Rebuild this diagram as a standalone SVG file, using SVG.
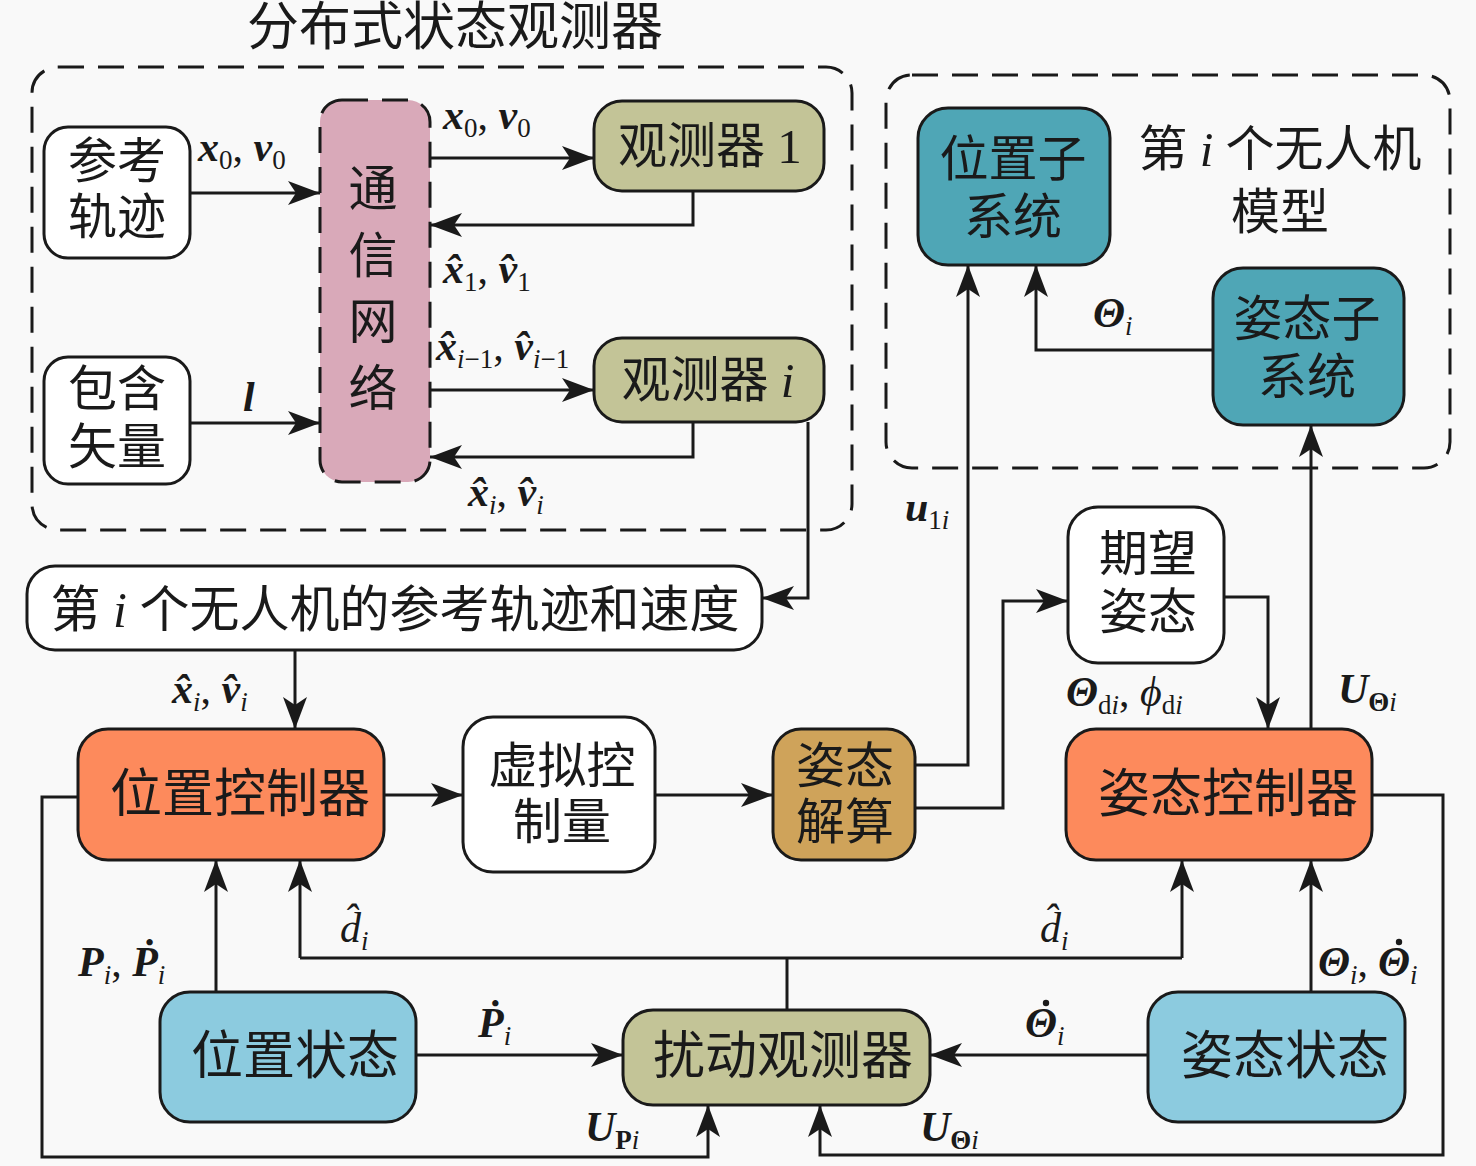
<svg xmlns="http://www.w3.org/2000/svg" width="1476" height="1166" viewBox="0 0 1476 1166">
<style>
.bg{fill:#f9f9f9}
.box{stroke:#1a1a1a;stroke-width:3}
.dash{fill:none;stroke:#1a1a1a;stroke-width:3;stroke-dasharray:26 14}
.cn{font-family:"Liberation Serif","Noto Sans CJK SC",serif;font-size:49px;fill:#1a1a1a;text-anchor:middle}
.big{font-size:52px}
.m{font-family:"Liberation Serif",serif;font-size:42px;fill:#1a1a1a}
.bi{font-weight:bold;font-style:italic}
.it{font-style:italic}
.sub{font-size:27px}
.ln{fill:none;stroke:#1a1a1a;stroke-width:3}
.dot{fill:#1a1a1a}
.white{fill:#ffffff}
.olive{fill:#c3c497}
.pink{fill:#d9a9b9}
.coral{fill:#fd8a5c}
.tan{fill:#cfa35a}
.teal{fill:#4fa6b6}
.lblue{fill:#8ccbdf}
</style>
<defs>
<marker id="ar" markerUnits="userSpaceOnUse" markerWidth="32" markerHeight="24" refX="32" refY="12" orient="auto">
<path d="M0,0 L32,12 L0,24 L8,12 Z" fill="#1a1a1a"/>
</marker>
</defs>
<rect class="bg" x="0" y="0" width="1476" height="1166"/>

<g id="frames">
<rect class="dash" x="32" y="67" width="820" height="463" rx="26"/>
<text class="cn big" x="455" y="45">分布式状态观测器</text>
<rect class="dash" x="886" y="75" width="564" height="393" rx="26"/>
<text class="cn" x="1280" y="166">第 <tspan font-style="italic" font-family="Liberation Serif">i</tspan> 个无人机</text>
<text class="cn" x="1280" y="229">模型</text>
</g>

<g id="connectors">
<line class="ln" x1="190" y1="193" x2="320" y2="193" marker-end="url(#ar)"/>
<line class="ln" x1="190" y1="423" x2="320" y2="423" marker-end="url(#ar)"/>
<line class="ln" x1="430" y1="158" x2="594" y2="158" marker-end="url(#ar)"/>
<polyline class="ln" points="693,191 693,225 430,225" marker-end="url(#ar)"/>
<line class="ln" x1="430" y1="390" x2="594" y2="390" marker-end="url(#ar)"/>
<polyline class="ln" points="693,422 693,457 430,457" marker-end="url(#ar)"/>
<polyline class="ln" points="808,422 808,598 762,598" marker-end="url(#ar)"/>
<line class="ln" x1="295" y1="650" x2="295" y2="729" marker-end="url(#ar)"/>
<line class="ln" x1="384" y1="795" x2="463" y2="795" marker-end="url(#ar)"/>
<line class="ln" x1="655" y1="795" x2="773" y2="795" marker-end="url(#ar)"/>
<polyline class="ln" points="915,765 968,765 968,265" marker-end="url(#ar)"/>
<polyline class="ln" points="915,808 1003,808 1003,601 1068,601" marker-end="url(#ar)"/>
<polyline class="ln" points="1224,597 1268,597 1268,729" marker-end="url(#ar)"/>
<line class="ln" x1="1311" y1="729" x2="1311" y2="425" marker-end="url(#ar)"/>
<polyline class="ln" points="1213,350 1036,350 1036,265" marker-end="url(#ar)"/>
<polyline class="ln" points="1372,795 1443,795 1443,1155 820,1155 820,1105" marker-end="url(#ar)"/>
<polyline class="ln" points="78,797 42,797 42,1157 708,1157 708,1105" marker-end="url(#ar)"/>
<line class="ln" x1="216" y1="992" x2="216" y2="860" marker-end="url(#ar)"/>
<line class="ln" x1="416" y1="1055" x2="623" y2="1055" marker-end="url(#ar)"/>
<line class="ln" x1="1148" y1="1055" x2="930" y2="1055" marker-end="url(#ar)"/>
<line class="ln" x1="787" y1="1010" x2="787" y2="958"/>
<polyline class="ln" points="300,958 1182,958"/>
<line class="ln" x1="300" y1="958" x2="300" y2="860" marker-end="url(#ar)"/>
<line class="ln" x1="1182" y1="958" x2="1182" y2="860" marker-end="url(#ar)"/>
<line class="ln" x1="1311" y1="992" x2="1311" y2="860" marker-end="url(#ar)"/>
</g>

<g id="labels">
<text class="m" x="198" y="161"><tspan class="bi">x</tspan><tspan class="sub" dy="8">0</tspan><tspan dy="-8">, </tspan><tspan class="bi">v</tspan><tspan class="sub" dy="8">0</tspan></text>
<text class="m bi" x="243" y="411">l</text>
<text class="m" x="443" y="129"><tspan class="bi">x</tspan><tspan class="sub" dy="8">0</tspan><tspan dy="-8">, </tspan><tspan class="bi">v</tspan><tspan class="sub" dy="8">0</tspan></text>
<text class="m" x="443" y="283"><tspan class="bi">x̂</tspan><tspan class="sub" dy="8">1</tspan><tspan dy="-8">, </tspan><tspan class="bi">v̂</tspan><tspan class="sub" dy="8">1</tspan></text>
<text class="m" x="436" y="360"><tspan class="bi">x̂</tspan><tspan class="sub it" dy="8">i</tspan><tspan class="sub">−1</tspan><tspan dy="-8">, </tspan><tspan class="bi">v̂</tspan><tspan class="sub it" dy="8">i</tspan><tspan class="sub">−1</tspan></text>
<text class="m" x="468" y="506"><tspan class="bi">x̂</tspan><tspan class="sub it" dy="8">i</tspan><tspan dy="-8">, </tspan><tspan class="bi">v̂</tspan><tspan class="sub it" dy="8">i</tspan></text>
<text class="m" x="172" y="703"><tspan class="bi">x̂</tspan><tspan class="sub it" dy="8">i</tspan><tspan dy="-8">, </tspan><tspan class="bi">v̂</tspan><tspan class="sub it" dy="8">i</tspan></text>
<text class="m" x="905" y="521"><tspan class="bi">u</tspan><tspan class="sub" dy="8">1</tspan><tspan class="sub it">i</tspan></text>
<text class="m" x="1093" y="327"><tspan class="bi">Θ</tspan><tspan class="sub it" dy="8">i</tspan></text>
<text class="m" x="1066" y="706"><tspan class="bi">Θ</tspan><tspan class="sub" dy="8">d</tspan><tspan class="sub it">i</tspan><tspan dy="-8">, </tspan><tspan class="it">ϕ</tspan><tspan class="sub" dy="8">d</tspan><tspan class="sub it">i</tspan></text>
<text class="m" x="1338" y="703"><tspan class="bi">U</tspan><tspan class="sub" dy="8" font-weight="bold">Θ</tspan><tspan class="sub it">i</tspan></text>
<text class="m" x="78" y="976"><tspan class="bi">P</tspan><tspan class="sub it" dy="8">i</tspan><tspan dy="-8">, </tspan><tspan class="bi">Ṗ</tspan><tspan class="sub it" dy="8">i</tspan></text>
<text class="m" x="340" y="942"><tspan class="it">d̂</tspan><tspan class="sub it" dy="8">i</tspan></text>
<text class="m" x="1040" y="942"><tspan class="it">d̂</tspan><tspan class="sub it" dy="8">i</tspan></text>
<text class="m" x="478" y="1037"><tspan class="bi">Ṗ</tspan><tspan class="sub it" dy="8">i</tspan></text>
<text class="m" x="1025" y="1037"><tspan class="bi">Θ</tspan><tspan class="sub it" dy="8">i</tspan></text>
<circle class="dot" cx="1046" cy="1003" r="3.2"/>
<text class="m" x="1318" y="976"><tspan class="bi">Θ</tspan><tspan class="sub it" dy="8">i</tspan><tspan dy="-8">,</tspan></text>
<text class="m" x="1378" y="976"><tspan class="bi">Θ</tspan><tspan class="sub it" dy="8">i</tspan></text>
<circle class="dot" cx="1399" cy="942" r="3.2"/>
<text class="m" x="585" y="1141"><tspan class="bi">U</tspan><tspan class="sub" dy="8" font-weight="bold">P</tspan><tspan class="sub it">i</tspan></text>
<text class="m" x="920" y="1141"><tspan class="bi">U</tspan><tspan class="sub" dy="8" font-weight="bold">Θ</tspan><tspan class="sub it">i</tspan></text>
</g>

<g id="ref-traj">
<rect class="box white" x="44" y="127" width="146" height="131" rx="24"/>
<text class="cn" x="117" y="178">参考</text>
<text class="cn" x="117" y="234">轨迹</text>
</g>
<g id="contain-vec">
<rect class="box white" x="44" y="357" width="146" height="127" rx="24"/>
<text class="cn" x="117" y="406">包含</text>
<text class="cn" x="117" y="464">矢量</text>
</g>
<g id="comm-net">
<rect class="pink" x="320" y="100" width="110" height="382" rx="22"/>
<rect class="dash" x="320" y="100" width="110" height="382" rx="22"/>
<text class="cn" x="373" y="206">通</text>
<text class="cn" x="373" y="273">信</text>
<text class="cn" x="373" y="339">网</text>
<text class="cn" x="373" y="406">络</text>
</g>
<g id="observer-1">
<rect class="box olive" x="594" y="101" width="230" height="90" rx="28"/>
<text class="cn" x="710" y="163">观测器 1</text>
</g>
<g id="observer-i">
<rect class="box olive" x="594" y="338" width="230" height="84" rx="28"/>
<text class="cn" x="708" y="397">观测器 <tspan font-style="italic" font-family="Liberation Serif">i</tspan></text>
</g>
<g id="ref-speed">
<rect class="box white" x="27" y="566" width="735" height="84" rx="28"/>
<text class="cn" x="395" y="627" style="font-size:50px">第 <tspan font-style="italic" font-family="Liberation Serif">i</tspan> 个无人机的参考轨迹和速度</text>
</g>
<g id="pos-ctrl">
<rect class="box coral" x="78" y="729" width="306" height="131" rx="30"/>
<text class="cn big" x="240" y="812">位置控制器</text>
</g>
<g id="virtual">
<rect class="box white" x="463" y="717" width="192" height="155" rx="30"/>
<text class="cn" x="562" y="783">虚拟控</text>
<text class="cn" x="562" y="839">制量</text>
</g>
<g id="att-solve">
<rect class="box tan" x="773" y="729" width="142" height="131" rx="28"/>
<text class="cn" x="845" y="783">姿态</text>
<text class="cn" x="845" y="839">解算</text>
</g>
<g id="desired-att">
<rect class="box white" x="1068" y="507" width="156" height="156" rx="30"/>
<text class="cn" x="1148" y="571">期望</text>
<text class="cn" x="1148" y="629">姿态</text>
</g>
<g id="att-ctrl">
<rect class="box coral" x="1066" y="729" width="306" height="131" rx="30"/>
<text class="cn big" x="1228" y="812">姿态控制器</text>
</g>
<g id="pos-sub">
<rect class="box teal" x="918" y="108" width="192" height="157" rx="30"/>
<text class="cn" x="1013" y="176">位置子</text>
<text class="cn" x="1013" y="234">系统</text>
</g>
<g id="att-sub">
<rect class="box teal" x="1213" y="268" width="191" height="157" rx="30"/>
<text class="cn" x="1307" y="336">姿态子</text>
<text class="cn" x="1307" y="394">系统</text>
</g>
<g id="pos-state">
<rect class="box lblue" x="160" y="992" width="256" height="130" rx="30"/>
<text class="cn big" x="295" y="1074">位置状态</text>
</g>
<g id="dist-obs">
<rect class="box olive" x="623" y="1010" width="307" height="95" rx="30"/>
<text class="cn big" x="783" y="1074">扰动观测器</text>
</g>
<g id="att-state">
<rect class="box lblue" x="1148" y="992" width="257" height="130" rx="30"/>
<text class="cn big" x="1285" y="1074">姿态状态</text>
</g>
</svg>
